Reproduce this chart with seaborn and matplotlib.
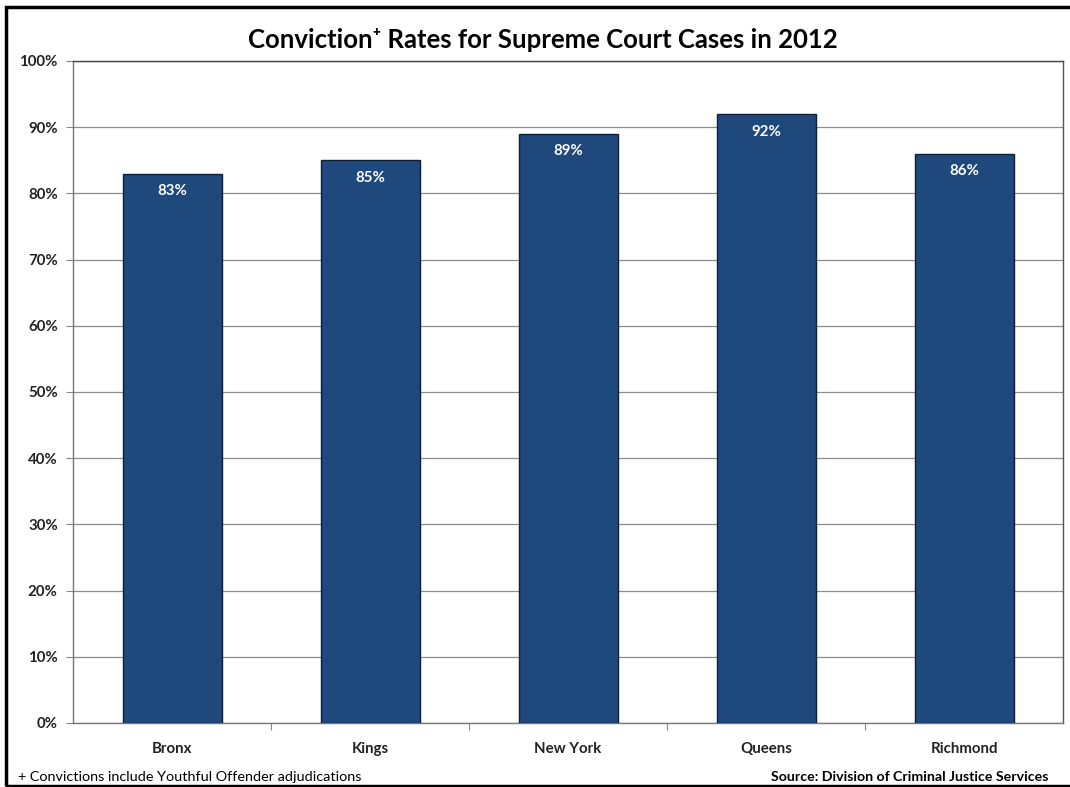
import matplotlib
matplotlib.use("Agg")
import matplotlib.pyplot as plt
from matplotlib.patches import Rectangle
from matplotlib.ticker import FixedLocator
import seaborn as sns
import pandas as pd

# Conviction rates by county, 2012
counties = ["Bronx", "Kings", "New York", "Queens", "Richmond"]
rates = [83, 85, 89, 92, 86]
y_ticks = [0, 10, 20, 30, 40, 50, 60, 70, 80, 90, 100]
y_tick_labels = [f"{v}%" for v in y_ticks]

title_text = "Conviction\u207a Rates for Supreme Court Cases in 2012"
footnote_text = "+ Convictions include Youthful Offender adjudications"
source_text = "Source: Division of Criminal Justice Services"

sns.set_theme(style="white")
plt.rcParams["font.family"] = ["Lato", "DejaVu Sans"]

bar_color = "#1F497D"

df = pd.DataFrame({"county": counties, "rate": rates})

fig = plt.figure(figsize=(10.70, 7.87), dpi=100)
ax = fig.add_axes([73 / 1070, 1 - 723 / 787, (1063 - 73) / 1070, (723 - 61) / 787])

sns.barplot(data=df, x="county", y="rate", color=bar_color, width=0.5,
            edgecolor="#0d1f38", linewidth=1.0, saturation=1, ax=ax, zorder=3)

ax.set_ylim(0, 100)
ax.set_xlim(-0.5, len(counties) - 0.5)
ax.set_yticks(y_ticks)
ax.set_yticklabels(y_tick_labels, fontsize=10.8, fontweight="bold", color="#222222")
ax.set_xticks(range(len(counties)))
ax.set_xticklabels(counties, fontsize=10.8, fontweight="bold", color="#222222")
ax.tick_params(axis="x", length=0, pad=14)
ax.tick_params(axis="y", length=5, width=0.8, color="#888888", direction="out", left=True, pad=6)
ax.set_xlabel("")
ax.set_ylabel("")

# category boundary ticks along the bottom axis
ax.xaxis.set_minor_locator(FixedLocator([i + 0.5 for i in range(len(counties) - 1)]))
ax.tick_params(axis="x", which="minor", length=5, width=0.8, color="#888888", direction="out", bottom=True)

ax.yaxis.grid(True, color="#8c8c8c", linewidth=0.9, zorder=0)
ax.set_axisbelow(True)
for side, sp in ax.spines.items():
    sp.set_visible(True)
    sp.set_linewidth(1.0)
    sp.set_color("#777777")
ax.spines["top"].set_color("#444444")
ax.spines["right"].set_color("#555555")

# value labels inside the bars
for i, v in enumerate(rates):
    ax.text(i, v - 1.6, f"{v}%", ha="center", va="top", fontsize=10.8,
            fontweight="bold", color="white", zorder=5)

fig.text(543 / 1070, 1 - 40 / 787, title_text, ha="center", va="center",
         fontsize=18.5, fontweight="bold", color="black")
fig.text(18 / 1070, 1 - 777 / 787, footnote_text, ha="left", va="center",
         fontsize=10.4, color="black")
fig.text(1048 / 1070, 1 - 777 / 787, source_text, ha="right", va="center",
         fontsize=10.2, fontweight="bold", color="black")

# outer frame of the figure
fig.patches.append(Rectangle((6 / 1070, 1.5 / 787), 1.2, 1 - 8.5 / 787, transform=fig.transFigure,
                             fill=False, edgecolor="black", linewidth=2.5))

fig.savefig("out.png", dpi=100, facecolor="white")
